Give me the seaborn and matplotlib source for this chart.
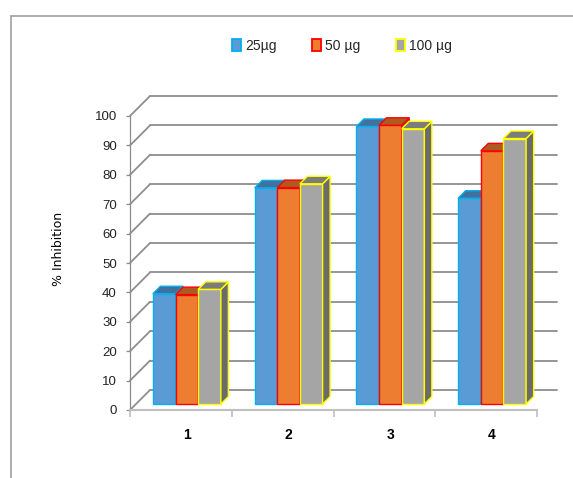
import numpy as np
import pandas as pd
import matplotlib
matplotlib.use('Agg')
import matplotlib.pyplot as plt
import seaborn as sns
from matplotlib.transforms import ScaledTranslation
from matplotlib.patches import Polygon, Patch
from matplotlib.lines import Line2D

# ---------------- data ----------------
categories = ['1', '2', '3', '4']
doses = ['25µg', '50 µg', '100 µg']
values_25 = [37.5, 73.5, 94.4, 70.0]
values_50 = [37.2, 73.6, 94.8, 86.1]
values_100 = [39.0, 74.9, 93.6, 90.3]
y_ticks = list(range(0, 101, 10))
y_label = '% Inhibition'

# ---------------- styles ----------------
face_colors = ['#5B9BD5', '#ED7D31', '#A5A5A5']
edge_colors = ['#00B0F0', '#FF0000', '#FFFF00']
top_colors = ['#41719C', '#AE5A21', '#7C7C7C']
side_colors = ['#3A6690', '#9E4F1C', '#6B6B6B']
grid_color = '#8E8E8E'
narrow = ['Liberation Sans Narrow', 'Liberation Sans', 'DejaVu Sans']

df = pd.DataFrame({
    'Sample': categories * 3,
    'Dose': np.repeat(doses, len(categories)),
    'Inhibition': values_25 + values_50 + values_100,
})

sns.set_theme(style='white')
plt.rcParams['font.family'] = ['DejaVu Sans']

W, H = 573, 478
fig = plt.figure(figsize=(W / 100, H / 100), dpi=100)
fig.patch.set_facecolor('white')
ax = fig.add_axes([130 / W, (H - 410) / H, 407 / W, 294 / H])
ax.set_facecolor('none')

sns.barplot(data=df, x='Sample', y='Inhibition', hue='Dose', order=categories,
            hue_order=doses, palette=face_colors, width=0.668, saturation=1,
            errorbar=None, legend=False, ax=ax)
ax.set_xlim(-0.5, len(categories) - 0.5)
ax.set_ylim(y_ticks[0], y_ticks[-1])

px_x = 407 / len(categories)
px_y = 294 / (y_ticks[-1] - y_ticks[0])


def off(px):
    return ScaledTranslation(px / 100, px / 100, fig.dpi_scale_trans)


wall_px, bar_front_px, bar_depth_px = 20, 6, 7.5

# back wall & side wall lines
for v in y_ticks:
    ax.add_line(Line2D([-0.5, len(categories) - 0.5], [v, v], color=grid_color, lw=1.3,
                       transform=ax.transData + off(wall_px), clip_on=False, zorder=0.5))
    ax.add_line(Line2D([-0.5, -0.5 + wall_px / px_x], [v, v + wall_px / px_y], color=grid_color,
                       lw=1.3, transform=ax.transData, clip_on=False, zorder=0.5))

# 3D bars
patches = sorted(ax.patches, key=lambda p: p.get_x())
ddx, ddy = bar_depth_px / px_x, bar_depth_px / px_y
tr = ax.transData + off(bar_front_px)
for k, p in enumerate(patches):
    j = k % 3
    z = 2 + k * 0.1
    x0, w, h = p.get_x(), p.get_width(), p.get_height()
    x1 = x0 + w
    p.set_transform(tr)
    p.set_edgecolor(edge_colors[j])
    p.set_linewidth(1.0)
    p.set_zorder(z)
    p.set_clip_on(False)
    top = Polygon([(x0, h), (x1, h), (x1 + ddx, h + ddy), (x0 + ddx, h + ddy)], closed=True,
                  facecolor=top_colors[j], edgecolor=edge_colors[j], lw=1.0,
                  transform=tr, zorder=z, clip_on=False)
    side = Polygon([(x1, 0), (x1 + ddx, ddy), (x1 + ddx, h + ddy), (x1, h)], closed=True,
                   facecolor=side_colors[j], edgecolor=edge_colors[j], lw=1.0,
                   transform=tr, zorder=z, clip_on=False)
    ax.add_patch(side)
    ax.add_patch(top)

# axes styling
for s in ['top', 'right']:
    ax.spines[s].set_visible(False)
ax.spines['left'].set_color('#8C8C8C')
ax.spines['left'].set_linewidth(0.9)
ax.spines['bottom'].set_color('#BFBFBF')
ax.spines['bottom'].set_linewidth(1.5)
ax.spines['left'].set_zorder(0.6)
ax.spines['bottom'].set_zorder(0.6)

ax.set_yticks(y_ticks)
ax.set_yticklabels([str(v) for v in y_ticks], family=narrow, fontsize=9.5, color='#222222')
ax.tick_params(axis='y', left=True, length=3, width=0.9, color='#8C8C8C', pad=6.5)

ax.set_xticks(np.arange(len(categories)) + bar_front_px / px_x)
ax.set_xticklabels(categories, family=narrow, fontsize=10, fontweight='bold', color='black')
ax.set_xticks(np.arange(len(categories) + 1) - 0.5, minor=True)
ax.tick_params(axis='x', which='major', bottom=True, length=0, pad=13)
ax.tick_params(axis='x', which='minor', bottom=True, length=5, width=1.2, color='#BFBFBF')
ax.set_xlabel('')
ax.set_ylabel('')

fig.text(58 / W, 1 - 249 / H, y_label, rotation=90, ha='center', va='center',
         fontsize=9, color='black', family=['DejaVu Sans'])

# legend
handles = [Patch(facecolor=fc, edgecolor=ec, lw=1.3) for fc, ec in zip(face_colors, edge_colors)]
fig.legend(handles, doses, loc='center', bbox_to_anchor=(342 / W, 1 - 46 / H), ncol=3,
           frameon=False, handlelength=0.6, handleheight=1.0, handletextpad=0.3,
           columnspacing=2.6, prop={'family': narrow, 'size': 10})

# outer frame
fig.add_artist(Line2D([11 / W, 1], [1 - 16 / H, 1 - 16 / H], color='#A0A0A0', lw=1.2,
                      transform=fig.transFigure))
fig.add_artist(Line2D([11 / W, 11 / W], [0, 1 - 16 / H], color='#A0A0A0', lw=1.2,
                      transform=fig.transFigure))

fig.savefig('out.png', dpi=100)
